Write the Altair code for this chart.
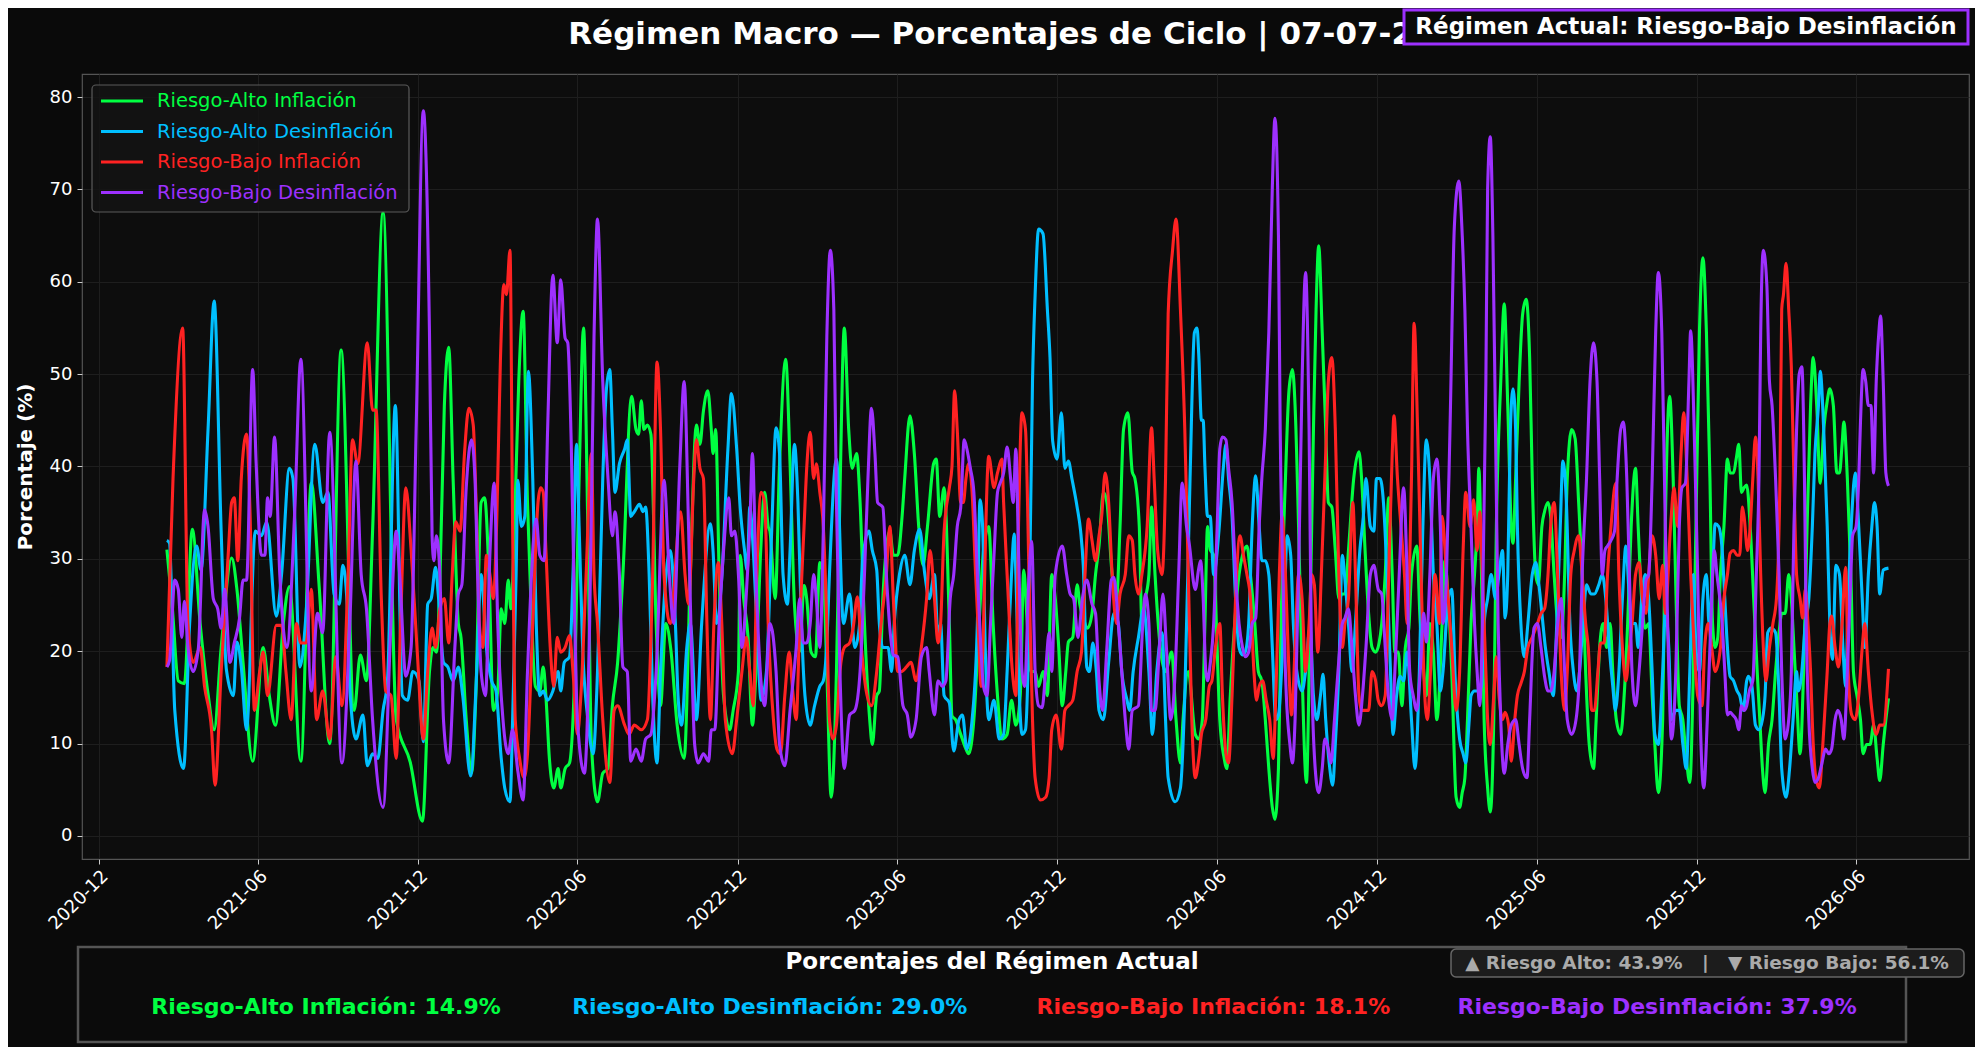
import altair as alt
import pandas as pd

TITULO = "Régimen Macro — Porcentajes de Ciclo | 07-07-2026"
REGIMEN_ACTUAL = "Régimen Actual: Riesgo-Bajo Desinflación"
PANEL_TITULO = "Porcentajes del Régimen Actual"
SERIES = ["Riesgo-Alto Inflación", "Riesgo-Alto Desinflación",
          "Riesgo-Bajo Inflación", "Riesgo-Bajo Desinflación"]
COLORES = ["#00FF41", "#00BFFF", "#FF2222", "#9D30FF"]
ACTUAL = [14.9, 29.0, 18.1, 37.9]
RIESGO_ALTO = 43.9
RIESGO_BAJO = 56.1
INICIO = "2021-01-01"  # day counts below are days since this date
TICKS_X = [(2020, 12), (2021, 6), (2021, 12), (2022, 6), (2022, 12), (2023, 6),
           (2023, 12), (2024, 6), (2024, 12), (2025, 6), (2025, 12), (2026, 6)]
TICKS_Y = [0, 10, 20, 30, 40, 50, 60, 70, 80]

# (day, value) turning points
ALTO_INF = [(47,31),(53,25),(60,16.8),(67,16.5),(76,33.2),(85,23),(94,15.4),(101,11.5),(109,20.4),(121,30.1),(127,26.7),(134,18.8),(145,8.1),(157,20.4),(164,15.2),(171,12),(180,23),(187,27),(200,8.1),(212,38.2),(221,27),(233,10),(246,52.6),(261,13.6),(268,19.6),(275,16.8),(282,33),(294,67.5),(309,12.6),(325,8),
(339,1.6),(347,17.8),(351,20.4),(355,19.9),(359,28),(364,46.6),(369,52.9),(374,38.7),(380,23),(383,21.5),(389,12.6),(395,6.8),(400,15.2),(406,36.1),(410,36.6),(415,28.3),(420,13.6),(425,15.7),(429,24.6),(433,23),(437,27.7),(440,24.6),(444,33),(449,49.2),(454,56.8),(459,36.1),(463,25.1),(468,16.2),(473,15.7),(477,18.3),(480,15.2),(484,8.4),(489,5.2),(494,7.3),(497,5.2),(502,7.3),(507,7.9),(513,17.8),(518,38.7),(523,55),(528,33),(532,10),(539,3.7),(545,6.8),(551,7.3),(556,14.1),(562,18.8),(568,28.3),(578,47.6),(583,44),(586,43.5),(589,47.1),(592,44),(596,44.5),(600,43.5),(606,23),(611,14.1),(617,23),(623,20),(630,12),
(638,8.4),(645,28.3),(652,44.5),(656,42.4),(660,46),(665,48.2),(669,44),(671,41.4),(674,44),(678,28.3),(683,15.2),(690,11.5),(694,13.6),(700,17.8),(702,30.4),(706,25.7),(711,21.5),(716,12),(720,17.8),(725,30),(730,37.2),(734,33.5),(736,33),(742,25.7),(747,40.3),(754,51.6),(759,40.3),(764,25.1),(770,20),(775,27.1),(778,25.7),(783,19.9),(788,19.4),(793,29.6),(797,28.3),(801,17.8),(806,4.2),(812,17.8),(816,37),(821,55),(826,44),(830,39.8),(835,41.4),(839,36.1),(844,23),(850,12.6),(853,9.9),(858,15.2),(861,15.7),(865,25.7),(873,33),(877,30.4),(882,30.4),(887,34.6),(890,38.7),(896,45.5),(901,41.4),(906,33.5),(911,29.3),(916,33.5),(923,40.3),
(926,40.8),(930,34.6),(935,37.7),(941,23),(944,13),(948,12.6),(954,11),(960,9.4),(963,8.9),(969,12.6),(975,23),(980,30.9),(986,33.5),(991,23),(996,15.2),(1001,10.5),(1007,11),(1012,14.7),(1017,12),(1022,15.2),(1026,28.8),(1030,23),(1034,17.8),(1039,17.8),(1043,16.2),(1048,17.8),(1053,15.2),(1058,28.3),(1062,25.7),(1066,20.4),(1070,14.1),(1074,17.8),(1077,21),(1082,21.5),(1087,27.2),(1090,25.1),(1094,23.6),(1099,22.5),(1104,24.1),(1108,28.3),(1112,31.4),(1117,37.2),(1121,36.1),(1127,28.3),(1132,25.7),(1136,33.5),(1140,44),(1145,45.8),(1150,39.4),(1153,38.7),(1158,33.5),(1161,23),(1165,25.7),(1169,28.3),(1172,35.6),(1176,28.3),(1182,20.4),(1188,17.8),(1195,19.9),(1200,12.6),(1205,7.9),(1208,12.6),(1214,17.8),
(1222,11),(1226,10.5),(1230,12.6),(1233,23),(1236,33.5),(1239,31),(1243,30.4),(1246,23),(1250,12.6),(1255,8.4),(1258,7.3),(1262,15.2),(1267,23),(1272,28.3),(1276,30.4),(1281,31.4),(1285,28.3),(1290,23),(1294,17.8),(1298,16.8),(1302,12.6),(1306,7.3),(1310,3.1),(1313,1.8),(1317,7.3),(1320,23),(1325,38.7),(1329,48.2),(1333,50.5),(1336,46.6),(1340,33.5),(1344,17.8),(1349,5.8),(1353,23),(1357,44),(1360,57),(1363,63.9),(1367,54.5),(1371,44),(1374,36.1),(1378,35.6),(1382,30.9),(1386,25.7),(1390,26.2),(1393,26.2),(1397,30.9),(1403,38.7),(1409,41.6),(1412,38.7),(1416,30.9),(1420,24.1),(1424,20.4),(1428,19.9),(1432,20.9),(1435,23),(1439,28.3),(1443,36.6),(1447,28.3),(1450,19.9),(1454,19.9),(1458,14.1),(1462,20.4),(1466,22.5),(1469,28.3),(1475,31.4),(1479,23),(1483,17.8),(1486,15.2),(1490,23),(1494,19.9),(1498,12.6),(1504,23),(1507,29.8),(1511,25.7),(1515,17.8),
(1520,4.2),(1524,3.1),(1527,4.7),(1530,6.3),(1533,12.6),(1537,23),(1541,28.3),(1544,33.5),(1546,39.8),(1549,28.3),(1552,12.6),(1556,5.2),(1559,2.6),(1563,12.6),(1566,33.5),(1571,49.2),(1575,57.6),(1579,46.6),(1583,33.5),(1585,31.7),(1588,38.7),(1592,49.2),(1596,56.5),(1600,58.1),(1604,51.8),(1607,38.7),(1611,28.3),(1614,27.2),(1618,33.5),(1621,35.1),(1625,36.1),(1628,34.6),(1632,28.3),(1636,23),(1640,21.5),(1644,28.3),(1647,38.7),(1652,44),(1656,43),(1660,36.1),(1664,28.3),(1668,17.8),(1672,10),(1677,7.3),(1680,12.6),(1684,20.4),(1688,23),(1692,20.4),(1696,23),(1699,17.8),(1703,12.6),(1708,11),(1712,15.2),(1716,23),(1720,33.5),(1725,39.8),(1728,33.5),(1732,25.7),(1736,22.5),(1740,23),(1744,15.2),(1747,10),(1751,4.7),(1756,12.6),(1759,33.5),(1764,47.6),(1768,38.7),(1772,23),(1775,14.1),(1779,12.6),(1783,8.4),(1787,5.8),(1791,17.8),(1794,33.5),(1798,54.5),(1802,62.6),(1806,54.5),(1810,38.7),(1813,23),(1816,20.4),
(1819,21.5),(1822,28.3),(1826,33.5),(1830,40.8),(1833,39.3),(1837,39.3),(1840,40.8),(1843,42.4),(1846,37.2),(1849,37.7),(1852,38),(1856,33.5),(1860,25.7),(1864,17.8),(1867,12.6),(1870,7.3),(1873,4.7),(1877,10),(1881,12.6),(1885,17.8),(1889,22),(1892,24.1),(1896,24.1),(1900,28.3),(1903,25.7),(1906,20.4),(1909,15.2),(1913,8.9),(1917,17.8),(1921,33.5),(1925,46.6),(1928,51.8),(1932,46.6),(1936,38.2),(1940,44),(1944,47.1),(1947,48.4),(1951,46.6),(1955,39.3),(1958,39.3),(1961,42.4),(1963,44.8),(1967,38.7),(1971,28.3),(1974,17.8),(1978,15.2),(1982,12.6),(1985,8.9),(1989,9.9),(1993,9.9),(1997,12),(2001,8.4),(2004,6),(2008,9.9),(2011,12.6),(2014,14.9)]

ALTO_DES = [(47,32),(50,31.7),(56,13.6),(66,7.3),(73,23),(81,31.4),(86,28.8),(94,44),(101,57.9),(109,33),(115,18),(123,15.2),(127,21),(132,18.3),(138,11.5),(148,33),(155,32.5),(161,34),(172,23.8),(178,28.3),(187,39.8),(191,38.7),(199,18.3),(206,24),(216,42.4),(225,36.1),(231,37.2),(238,26.2),(244,25.1),(248,29.3),(253,25),(256,16),(263,10.5),(271,13.1),(276,7.6),(282,8.9),(288,8.4),(294,13.6),(299,16.8),(308,46.6),(316,15.2),(322,14.7),(328,17.8),(335,16.8),
(340,10.2),(345,25.1),(349,25.7),(354,29.1),(357,26.2),(363,18.8),(368,18.3),(374,16.8),(380,18.3),(385,15.2),(394,6.5),(401,17.8),(406,28.3),(412,20.4),(418,16.8),(423,15.7),(429,8.4),(433,5.2),(439,3.7),(442,12.6),(446,28.3),(448,38.5),(452,33.5),(456,34.6),(460,50.3),(465,38.7),(469,23),(473,15.2),(477,15.7),(482,14.7),(488,15.7),(494,17.8),(497,15.7),(501,18.8),(507,19.4),(511,28.3),(515,42.4),(518,33.5),(522,20.4),(528,12.6),(534,8.9),(539,17.8),(545,38.7),(549,48.2),(553,50.5),(556,44),(559,37.2),(564,40.3),(570,41.9),(573,42.9),(577,34.6),(581,35.1),(587,35.9),(591,35.1),(594,35.6),(598,28.3),(602,15.2),(607,7.9),(611,17.8),
(622,30.9),(628,23),(631,15.2),(635,12),(641,20.4),(645,23),(652,12.6),(658,23),(668,33.8),(671,30.9),(675,23),(681,28),(688,41.9),(692,47.9),(698,41.9),(702,35.6),(707,30.9),(710,28.8),(713,35.6),(717,30.9),(721,23),(726,14.7),(732,17.8),(738,33),(743,44.2),(747,41.4),(751,28.3),(756,25.1),(759,30.9),(764,42.4),(768,36.1),(772,23),(776,15.2),(782,12),(787,14.1),(793,16.2),(797,16.8),(801,20.9),(804,28.3),(812,40.8),(820,23),(827,26.2),(833,20.4),(838,22.5),(842,30),(849,33),(853,30.9),(858,28.8),(861,23),(865,20.4),(871,20.4),(875,17.8),(878,23),(884,28.3),(890,30.4),(896,27.2),(901,30.9),(907,33.2),(913,28.3),(918,25.7),(924,28.3),(928,21.5),
(931,23),(935,15.2),(941,14.4),(946,9.2),(952,12.6),(956,13.1),(961,9.4),(967,12.6),(973,23),(976,36.4),(979,33.5),(982,20.4),(986,12.6),(992,14.7),(998,10.5),(1003,11),(1007,17.8),(1012,28.3),(1015,32.7),(1017,28.3),(1020,17.8),(1024,11),(1028,11.5),(1032,23),(1036,49.2),(1039,58.6),(1043,65.7),(1048,65.2),(1053,57),(1056,51.8),(1059,42.8),(1064,40.8),(1069,45.8),(1073,39.8),(1077,40.6),(1081,38.7),(1087,35.6),(1091,33),(1094,29.3),(1098,18.3),(1101,17.8),(1105,20.9),(1109,17.8),(1112,13.6),(1117,12.6),(1123,18.8),(1129,24.1),(1134,23),(1138,17.8),(1144,14.7),(1147,13.6),(1151,17.8),(1157,21.5),(1163,24.6),(1169,17.8),(1173,11),(1178,17.8),(1184,22),(1188,12.6),(1191,6.3),(1199,3.7),(1205,5.2),(1210,15.2),(1216,38.7),
(1221,54.5),(1224,55),(1226,52),(1229,45),(1231,45),(1233,40),(1236,34.6),(1239,34.6),(1243,28.3),(1249,33),(1254,39.8),(1257,42.4),(1260,38.7),(1264,34.6),(1268,25.7),(1272,20.4),(1276,19.6),(1279,19.9),(1283,23),(1287,33.5),(1291,39),(1295,33.5),(1298,29.8),(1302,29.8),(1306,28.3),(1310,20.4),(1314,12.6),(1317,13.1),(1323,23),(1327,32.5),(1331,30.4),(1334,23),(1338,17.8),(1344,15.7),(1348,17.8),(1353,22.5),(1357,15.2),(1361,12.6),(1365,15.2),(1368,17.5),(1371,12.6),(1375,7.9),(1379,5.5),(1382,10),(1386,17.8),(1390,30.4),(1393,27.7),(1397,23),(1401,17.8),(1405,23),(1410,30.9),(1414,34.6),(1417,38.7),(1422,33.5),(1426,33),(1429,38.7),(1433,38.7),(1437,36.1),(1441,28.3),(1445,17.8),(1448,11),(1452,15.2),(1456,17.3),(1460,16.8),(1464,19.9),(1469,12.6),(1473,7.3),(1478,17.8),(1482,33.5),(1486,42.9),(1490,38.7),(1494,28.3),(1498,23),(1502,15.7),(1505,17.8),(1511,25.7),(1515,26.7),(1519,17),
(1524,10.5),(1528,8.9),(1531,7.9),(1535,12.6),(1537,15.2),(1541,15.7),(1545,15.7),(1549,16.2),(1552,23),(1556,25.7),(1560,28.3),(1565,25.7),(1569,28.3),(1573,30.9),(1576,23.6),(1579,28.3),(1582,44),(1585,48.4),(1588,44),(1590,33.5),(1594,23),(1598,19.4),(1602,23),(1607,28.3),(1611,29.6),(1614,27.7),(1618,24.1),(1622,20.4),(1626,17.8),(1631,15.2),(1635,23),(1639,33.5),(1642,40.6),(1646,36.1),(1650,23),(1654,17.8),(1658,15.7),(1661,17.8),(1665,23),(1669,27.2),(1674,26.2),(1678,26.2),(1683,27.2),(1687,28.3),(1691,25.7),(1695,20.4),(1699,16.2),(1702,13.6),(1706,17.8),(1710,25.7),(1714,31.4),(1718,25.7),(1721,23),(1725,23),(1728,20.4),(1732,25.7),(1736,28.3),(1740,25.7),(1744,17.8),(1747,11),(1751,9.9),(1756,17.8),(1759,24.1),(1763,20.4),(1766,12.6),(1771,13.6),(1775,13.6),(1779,10),(1783,7.3),(1787,17.8),(1791,28.3),(1794,20.4),(1798,17.8),(1802,25.7),(1806,28.3),(1809,23),(1813,28.3),(1816,33.8),
(1820,33.5),(1824,30.9),(1827,25.7),(1830,20.4),(1833,17.3),(1837,16.8),(1841,15.7),(1844,15.2),(1848,13.6),(1852,16.8),(1854,17.3),(1858,16.2),(1862,12),(1866,11.5),(1870,12.6),(1873,15.2),(1876,22),(1880,22.5),(1885,22),(1889,15.2),(1892,7.3),(1897,4.2),(1901,7.3),(1905,12.6),(1909,17.8),(1911,15.7),(1915,17.8),(1919,23),(1923,25.7),(1927,33.5),(1930,41.4),(1934,46.6),(1936,50.3),(1940,44),(1944,33.5),(1947,23),(1950,19.1),(1954,29.3),(1958,28.3),(1962,20.4),(1965,16.2),(1968,25.7),(1972,34.6),(1976,39.3),(1980,33.5),(1984,25.7),(1987,20.4),(1991,28.3),(1995,33.5),(1998,36.1),(2001,33.5),(2004,26.2),(2008,28.8),(2014,29)]

BAJO_INF = [(47,18.3),(54,38.7),(65,55),(71,23),(77,18.8),(85,20.4),(90,16.2),(98,11.5),(102,5.5),(109,17.8),(117,30.4),(121,36.1),(124,36.6),(128,29.8),(132,38.7),(138,43.5),(142,35),(147,13.6),(153,17.8),(157,19.9),(162,15.2),(172,22.8),(178,22.8),(183,17.8),(189,12.6),(195,23),(200,20.9),(206,20.9),(212,26.7),(218,12.6),(225,15.7),(233,10.5),(240,19.4),(247,14.1),(254,28.3),(259,42.9),(265,40.3),(276,53.4),(282,46.1),(286,46.1),(292,25.7),(297,15.7),(303,15.2),(309,8.4),(314,23),(320,37.7),(326,31),(333,20),
(340,10.5),(345,17.8),(350,22.5),(354,20.4),(359,24.6),(364,25.7),(369,20.9),(373,28.3),(377,34),(382,33),(387,41.4),(392,46.3),(397,44.5),(401,33.5),(404,23),(408,20.4),(412,30.4),(416,28.3),(420,25.7),(424,34.6),(428,51.3),(432,59.7),(435,58.6),(439,63.4),(442,33.5),(445,12.6),(450,8.4),(455,6.3),(459,8.9),(465,23),(471,36.1),(474,37.7),(477,37.2),(480,31),(485,20.4),(489,16.2),(493,21.5),(497,19.9),(502,20.4),(507,21.7),(511,17.8),(516,11),(520,15.2),(526,28.3),(532,41.4),(535,28.3),(539,23),(545,12.6),(553,5.8),(558,13.6),(562,14.1),(570,12),(575,11),(581,12),(589,11.5),(596,12.6),(602,28.3),(607,51.3),(611,44),(615,28.3),
(622,23),(634,35.1),(639,28.3),(643,25.1),(649,38.7),(652,42.9),(656,39.8),(660,38.7),(664,23),(668,12.6),(672,23),(677,29.6),(681,23),(685,12.6),(693,8.9),(698,12.6),(704,17.8),(709,21.5),(713,17.8),(717,14.1),(721,28.3),(726,37.2),(730,36.1),(734,23),(740,12.6),(744,9.4),(748,8.9),(753,15.2),(758,19.9),(762,15.7),(766,12.6),(770,23),(775,33.5),(778,39.8),(782,43.7),(786,38.7),(789,40.3),(793,37.2),(797,33.5),(801,23),(804,12.6),(808,10.5),(812,12),(816,17.8),(821,20.4),(827,20.9),(831,22.5),(836,25.9),(840,20.9),(846,15.7),(852,14.1),(858,17.8),(863,23),(869,28.3),(873,33.5),(877,25.7),(882,17.8),(886,17.8),(892,18.3),(897,18.8),(903,16.8),(909,20.4),(915,25.7),(919,30.9),(924,25.7),(928,20.9),
(931,23),(935,33),(941,37.7),(944,40),(947,48.2),(950,44),(954,36.1),(957,36.1),(960,38.7),(963,40.3),(967,37.2),(971,28.3),(975,20.4),(977,16.2),(986,41.1),(992,37.7),(996,39.3),(1001,40.8),(1003,36.1),(1007,28.3),(1013,17.8),(1017,15.2),(1020,33.5),(1024,45.8),(1028,44),(1032,28.3),(1036,12.6),(1039,6.3),(1045,3.9),(1051,4.2),(1055,6.3),(1058,11.5),(1063,13.1),(1069,9.4),(1073,13.6),(1077,14.1),(1082,14.7),(1087,17.8),(1092,19.9),(1096,28.3),(1100,34.3),(1104,32),(1108,29.8),(1112,32.5),(1115,34.6),(1119,39.3),(1123,36.1),(1127,28.3),(1132,23),(1136,26.2),(1142,28.3),(1146,32.5),(1150,32),(1153,28.3),(1157,26.2),(1161,28.3),(1167,33.5),(1172,44.2),(1175,38.7),(1179,30.9),(1184,28.3),(1188,38.7),(1191,56.5),(1196,63.4),(1200,66.8),(1205,57),(1210,44),(1214,28.3),(1218,12.6),
(1222,6.3),(1226,8.4),(1229,11),(1234,12.6),(1238,16.2),(1241,16.8),(1245,20.4),(1250,23),(1253,15.2),(1257,8.9),(1260,7.9),(1264,15.2),(1268,25.7),(1273,32.5),(1277,30.4),(1281,28.3),(1285,25.7),(1289,17.8),(1292,14.7),(1295,16.2),(1299,16.8),(1303,14.7),(1307,12.6),(1311,8.4),(1314,15.2),(1318,28.3),(1321,34.6),(1325,28.3),(1329,17.8),(1332,13.1),(1336,20.4),(1340,28.3),(1344,25.7),(1348,17.8),(1352,23),(1355,28.3),(1358,27.2),(1362,19.9),(1366,28.3),(1371,41.4),(1374,49.2),(1378,51.8),(1382,44),(1386,28.3),(1390,20.4),(1393,23),(1397,25.7),(1402,36.1),(1405,28.3),(1409,15.2),(1412,13.6),(1417,13.6),(1420,13.6),(1424,17.8),(1428,16.8),(1431,14.7),(1435,14.1),(1439,15.2),(1443,28.3),(1447,41.4),(1449,45.5),(1453,38.7),(1457,33.5),(1461,28.3),(1464,23),(1469,38.7),(1472,55.5),(1476,44),(1480,28.3),(1483,17.8),(1487,12.6),(1492,20.4),(1496,28.3),(1501,23),(1504,34.6),(1509,28.3),(1515,20.4),
(1520,13.6),(1524,17.8),(1528,30.9),(1531,37.2),(1536,33.5),(1540,36.4),(1544,30.9),(1547,35.1),(1550,28.3),(1554,17.8),(1556,12.6),(1559,9.9),(1563,15.2),(1566,19.4),(1569,15.2),(1573,12.6),(1576,13.4),(1580,12),(1583,8.1),(1587,12.6),(1590,15.2),(1594,16.5),(1598,17.8),(1602,20.4),(1607,21.5),(1613,23),(1617,24.1),(1621,24.6),(1625,28.3),(1628,33.5),(1632,36.1),(1636,28.3),(1640,17.8),(1644,13.6),(1647,17.8),(1651,28.3),(1655,30.9),(1660,32.5),(1664,28.3),(1668,23),(1671,20.4),(1675,13.6),(1678,13.6),(1682,17.8),(1685,20.9),(1689,20.9),(1693,28.3),(1697,33.5),(1701,37.7),(1703,38.2),(1706,28.3),(1710,20.4),(1714,16.8),(1718,20.4),(1721,23),(1725,28.3),(1729,29.6),(1733,25.7),(1737,24.1),(1740,28.3),(1744,32.5),(1748,30.4),(1752,25.7),(1756,29.3),(1759,24.1),(1765,33.5),(1769,37.7),(1773,33.5),(1777,41.4),(1780,45.8),(1784,38.7),(1788,28.3),(1792,20.4),(1796,15.2),(1801,14.1),(1804,20.4),(1808,23),(1812,20.4),(1816,17.8),
(1822,20.4),(1826,25.7),(1830,28.3),(1833,30.6),(1837,30.9),(1841,30.4),(1844,30.4),(1847,35.6),(1849,34.6),(1853,30.9),(1856,33.5),(1859,38.7),(1862,43.2),(1865,38.7),(1868,28.3),(1871,20.4),(1874,16.8),(1878,20.4),(1882,23),(1886,25.7),(1890,38.7),(1892,57),(1894,58.6),(1897,62),(1900,57),(1903,50.8),(1906,38.7),(1909,28.3),(1913,25.7),(1916,23.6),(1919,26.7),(1922,23),(1925,17.8),(1928,10),(1931,6.3),(1935,5.2),(1939,9.9),(1944,17.8),(1947,23),(1949,23.8),(1953,20.4),(1957,18.3),(1961,23),(1965,29.1),(1968,17.8),(1972,13.1),(1976,12.6),(1980,15.2),(1984,20.4),(1987,23),(1991,17.8),(1995,13.6),(2000,11),(2004,12),(2008,12),(2014,18.1)]

BAJO_DES = [(47,18.3),(50,19),(56,27.7),(60,26.7),(64,21.5),(67,25.4),(71,20.5),(77,17.8),(83,20.4),(90,35.3),(94,33.5),(100,25.7),(105,24.6),(109,22.5),(113,26.7),(119,18.8),(124,20.9),(130,23.6),(134,27.7),(138,27.7),(145,50.5),(149,40.3),(155,30.4),(159,30.4),(162,36.6),(165,34.6),(170,43.2),(176,28.3),(184,20.4),(193,35),(200,51.6),(212,15.7),(219,24.1),(225,22),(233,43.7),(247,7.9),(256,23),(263,40.6),(269,28.3),(275,24.6),(282,12.6),(294,3.1),(303,23),(309,33),(313,28.3),(320,17.3),(326,20.4),
(332,45),(340,78.5),(347,54.5),(350,32.5),(352,29.8),(355,32.5),(359,28),(363,12.6),(369,7.9),(376,20.4),(380,26.2),(384,27.2),(389,37.7),(395,42.9),(399,38.7),(402,28.3),(406,17.8),(411,15.2),(416,30.4),(421,38.2),(425,23),(431,12.6),(437,8.9),(442,11.5),(448,7),(454,3.9),(459,17.8),(469,34.3),(473,30.4),(478,29.8),(482,44),(488,60.7),(493,53.4),(497,60.2),(502,53.9),(505,53.4),(509,42.4),(513,23),(516,12.6),(524,6.8),(530,23),(535,54),(539,66.8),(545,49.2),(551,38.7),(556,32.5),(559,35.1),(564,28.3),(568,18.3),(573,17.8),(577,8.1),(583,9.4),(589,8.1),(594,10.5),(600,11),(606,17.8),(615,38.5),(621,28.3),(626,23),(633,40),
(638,49.2),(643,33.5),(647,17.8),(650,9.9),(654,7.9),(660,8.9),(666,8.1),(669,11.5),(673,11.5),(678,23),(683,30.9),(689,36.6),(692,32.5),(696,33),(700,28.3),(704,20.4),(709,26.2),(713,33.5),(716,41.4),(720,28.3),(725,17.8),(730,14.1),(736,23),(743,17.8),(747,9.9),(753,7.6),(759,13.6),(766,20.4),(770,25.7),(774,20.9),(778,20.9),(782,23),(786,28.3),(789,25.7),(793,20.4),(797,33),(801,54),(805,63.4),(809,57),(812,36.1),(816,17.8),(821,7.3),(827,13.1),(833,13.6),(839,17.8),(844,28.3),(848,38.7),(852,46.3),(856,41.4),(859,36.1),(865,35.6),(869,28.3),(873,22.5),(877,19.6),(882,19.4),(888,14.1),(893,13.1),(897,10.7),(903,12.6),(909,19.4),(915,20.4),(918,17.8),(924,13.1),(928,16.8),
(933,16.2),(937,16.8),(942,25.7),(946,28.3),(950,33.5),(954,35.6),(958,42.9),(961,41.9),(965,39.8),(969,37.2),(973,28.3),(977,20.4),(980,16.2),(984,15.2),(988,23),(992,30.4),(996,37.2),(999,38.2),(1003,39.3),(1007,42.1),(1011,38.7),(1014,36.1),(1017,41.9),(1020,30.9),(1024,17.8),(1027,16.2),(1032,28.3),(1035,31.9),(1039,17.8),(1043,14.1),(1047,13.9),(1051,17.8),(1055,22),(1058,17.8),(1062,28.3),(1070,31.4),(1075,28.3),(1079,26.2),(1083,25.7),(1088,21.5),(1093,25.7),(1098,27.7),(1104,25.1),(1108,24.1),(1112,16.8),(1116,13.6),(1121,20.4),(1126,27.7),(1129,28),(1134,23),(1138,17.8),(1142,12.6),(1146,9.4),(1150,13.6),(1157,14.1),(1162,23),(1165,26.2),(1169,23),(1172,13.6),(1176,13.6),(1181,20.4),(1185,26.2),(1189,20.4),(1194,12.6),(1199,17.8),(1203,28.3),(1207,38.2),(1212,33.5),(1215,31.7),
(1222,26.7),(1226,29),(1228,29.8),(1231,25.7),(1234,17.8),(1236,16.8),(1239,18.6),(1243,23),(1247,33.5),(1250,41.9),(1253,43.2),(1257,42.9),(1260,39.8),(1264,36.1),(1268,28.3),(1272,23),(1276,20.4),(1279,19.4),(1283,19.9),(1287,23),(1291,23.6),(1295,33.5),(1298,38.7),(1302,44),(1306,54.5),(1310,70.2),(1313,77.7),(1317,65),(1319,44),(1322,28.3),(1326,15.2),(1330,10),(1333,7.9),(1336,12.6),(1340,28.3),(1344,49.2),(1348,61),(1352,44),(1355,17.8),(1359,7.3),(1363,4.7),(1367,7.3),(1370,10.5),(1374,9.4),(1377,7.9),(1381,12.6),(1385,17.8),(1390,23),(1393,23.6),(1397,24.6),(1401,20.4),(1405,15.2),(1409,12),(1413,15.2),(1417,20.4),(1422,28.3),(1426,29.3),(1431,26.7),(1435,26.2),(1439,20.4),(1443,14.7),(1447,12.6),(1450,17.8),(1455,28.3),(1460,37.7),(1464,28.3),(1467,17.8),(1471,15.2),(1475,13.6),(1479,17.8),(1483,24.1),(1486,21),(1490,28.3),(1494,38.7),(1498,40.8),(1502,33.5),(1505,23),(1509,28.3),(1513,44),
(1518,66),(1523,70.9),(1527,65),(1530,57),(1533,44),(1537,33.5),(1541,23),(1544,17.8),(1547,14.1),(1550,23),(1554,49.2),(1556,70),(1559,75.7),(1562,65),(1565,44),(1568,23),(1571,12.6),(1575,6.8),(1579,9.9),(1583,12),(1588,12.6),(1592,9.9),(1596,7.3),(1601,6.3),(1604,12.6),(1609,22.5),(1613,23),(1617,20.4),(1621,17.3),(1625,15.7),(1628,15.7),(1632,17.8),(1636,23),(1640,25.7),(1644,17.8),(1647,12.6),(1652,11),(1657,12.6),(1661,17.8),(1664,28.3),(1669,38.7),(1673,49.2),(1677,53.4),(1681,49.2),(1684,38.7),(1687,28.3),(1690,30.9),(1693,31.4),(1697,32),(1701,33),(1704,38.7),(1708,44),(1711,44.8),(1715,38.7),(1718,28.3),(1721,17.8),(1725,14.1),(1729,17.8),(1733,23),(1737,27.7),(1740,28.3),(1744,38.7),(1748,54.5),(1751,61),(1755,54.5),(1759,33.5),(1763,17.8),(1766,10.5),(1771,17.8),(1775,33.5),(1778,37.7),(1782,38.2),(1786,49.2),(1788,54.7),(1792,44),(1796,28.3),(1799,12.6),(1803,5.2),(1807,12.6),(1811,23),(1815,30.9),(1818,28.3),
(1824,23),(1827,17.8),(1830,13.1),(1833,13.4),(1836,13.1),(1840,12.6),(1843,11.5),(1846,14.1),(1849,13.6),(1852,14.1),(1855,15.7),(1859,16.8),(1863,28.3),(1866,38.7),(1868,54.5),(1871,63.4),(1875,59.7),(1878,49.2),(1881,46.6),(1885,38.7),(1889,28.3),(1892,17.8),(1896,10.5),(1900,12.6),(1903,17.8),(1906,33.5),(1909,44),(1912,50),(1915,50.8),(1918,38.7),(1920,23),(1923,12.6),(1927,7.3),(1930,5.8),(1934,6.3),(1938,7.9),(1942,9.4),(1946,8.9),(1949,9.4),(1953,12.6),(1956,13.6),(1960,12.6),(1963,10.5),(1967,17.8),(1971,28.3),(1973,32.5),(1977,33.5),(1980,38.7),(1982,44.8),(1985,50.5),(1988,49.2),(1991,46.6),(1994,46.6),(1997,39.3),(2000,49.2),(2003,54.5),(2005,56.3),(2008,49.2),(2011,39.3),(2014,37.9)]

DATOS = [ALTO_INF, ALTO_DES, BAJO_INF, BAJO_DES]

FONT = "DejaVu Sans"
W, H = 1887, 785
NB = "\u00a0"


def tabla(puntos, nombre):
    df = pd.DataFrame(puntos, columns=["dia", "valor"])
    df = df.drop_duplicates("dia").sort_values("dia")
    df["fecha"] = (pd.Timestamp(INICIO) + pd.to_timedelta(df["dia"], unit="D")).dt.strftime("%Y-%m-%d")
    df["serie"] = nombre
    return df


x_enc = alt.X(
    "fecha:T",
    scale=alt.Scale(type="utc", nice=False,
                    domain=[alt.DateTime(year=2020, month=11, date=12, utc=True),
                            alt.DateTime(year=2026, month=10, date=8, utc=True)]),
    axis=alt.Axis(values=[alt.DateTime(year=y, month=m, date=1, utc=True) for y, m in TICKS_X],
                  labelExpr="utcFormat(datum.value, '%Y-%m')", labelAngle=-45, title=None,
                  labelFontSize=18, labelColor="#ffffff", tickColor="#cccccc",
                  tickSize=5, labelPadding=3, grid=True, gridColor="#1e1e1e",
                  domain=False),
)
y_enc = alt.Y(
    "valor:Q",
    scale=alt.Scale(domain=[-2.49, 82.49], nice=False, zero=False),
    axis=alt.Axis(values=TICKS_Y, title="Porcentaje (%)", titleFontSize=20,
                  titleFontWeight="bold", titleColor="#ffffff", titlePadding=14,
                  labelFontSize=18, labelColor="#ffffff", tickColor="#cccccc",
                  tickSize=5, labelPadding=5, grid=True, gridColor="#1e1e1e",
                  domain=False),
)

uno = pd.DataFrame({"k": [0]})
capas = []

for puntos, nombre, color in zip(DATOS, SERIES, COLORES):
    capas.append(
        alt.Chart(tabla(puntos, nombre))
        .mark_line(color=color, strokeWidth=3.1, interpolate="monotone")
        .encode(x=x_enc, y=y_enc)
    )

# legend box (inside plot, top-left)
capas.append(
    alt.Chart(uno).mark_rect(fill="#141414", fillOpacity=0.85, stroke="#5a5a5a",
                             strokeWidth=1.2, cornerRadius=4)
    .encode(x=alt.value(10), x2=alt.value(327), y=alt.value(11), y2=alt.value(138))
)
for i, (nombre, color) in enumerate(zip(SERIES, COLORES)):
    yy = 27 + i * 30.5
    capas.append(
        alt.Chart(uno).mark_rule(color=color, strokeWidth=3.2)
        .encode(x=alt.value(19), x2=alt.value(61), y=alt.value(yy))
    )
    capas.append(
        alt.Chart(uno).mark_text(align="left", baseline="middle", fontSize=19.5,
                                 font=FONT, color=color, text=nombre)
        .encode(x=alt.value(75), y=alt.value(yy))
    )

# title and current-regime badge (the badge covers the end of the title, as in the source)
capas.append(
    alt.Chart(uno).mark_text(align="center", baseline="middle", fontSize=31,
                             fontWeight="bold", font=FONT, color="#ffffff", text=TITULO)
    .encode(x=alt.value(941), y=alt.value(-39))
)
capas.append(
    alt.Chart(uno).mark_rect(fill="#0a0a0a", stroke=COLORES[3], strokeWidth=3)
    .encode(x=alt.value(1322), x2=alt.value(1886), y=alt.value(-64), y2=alt.value(-30))
)
capas.append(
    alt.Chart(uno).mark_text(align="center", baseline="middle", fontSize=23,
                             fontWeight="bold", font=FONT, color="#ffffff", text=REGIMEN_ACTUAL)
    .encode(x=alt.value(1604), y=alt.value(-47))
)

# bottom summary panel
capas.append(
    alt.Chart(uno).mark_rect(fill="#0b0b0b", stroke="#555555", strokeWidth=2.5)
    .encode(x=alt.value(-4), x2=alt.value(1824), y=alt.value(873), y2=alt.value(968))
)
capas.append(
    alt.Chart(uno).mark_text(align="center", baseline="middle", fontSize=23,
                             fontWeight="bold", font=FONT, color="#ffffff", text=PANEL_TITULO)
    .encode(x=alt.value(910), y=alt.value(888))
)
for i, (nombre, color, pct) in enumerate(zip(SERIES, COLORES, ACTUAL)):
    capas.append(
        alt.Chart(uno).mark_text(align="center", baseline="middle", fontSize=22,
                                 fontWeight="bold", font=FONT, color=color,
                                 text=f"{nombre}: {pct:.1f}%")
        .encode(x=alt.value(244 + i * 443.7), y=alt.value(933))
    )
capas.append(
    alt.Chart(uno).mark_rect(fill="#1c1c1c", stroke="#666666", strokeWidth=1.5, cornerRadius=5)
    .encode(x=alt.value(1369), x2=alt.value(1882), y=alt.value(875), y2=alt.value(903))
)
sep = NB * 3 + "|" + NB * 3
capas.append(
    alt.Chart(uno).mark_text(align="center", baseline="middle", fontSize=18.5,
                             fontWeight="bold", font=FONT, color="#aaaaaa",
                             text=f"▲ Riesgo Alto: {RIESGO_ALTO:.1f}%{sep}▼ Riesgo Bajo: {RIESGO_BAJO:.1f}%")
    .encode(x=alt.value(1625), y=alt.value(889))
)

chart = (
    alt.layer(*capas)
    .properties(width=W, height=H, background="#0a0a0a",
                autosize=alt.AutoSizeParams(type="none"),
                padding={"left": 74, "top": 66, "right": 6, "bottom": 188})
    .configure(font=FONT)
    .configure_view(fill="#0d0d0d", stroke="#555555", strokeWidth=1.2)
)

chart.save("out.html", embed_options={"renderer": "svg", "actions": False})
